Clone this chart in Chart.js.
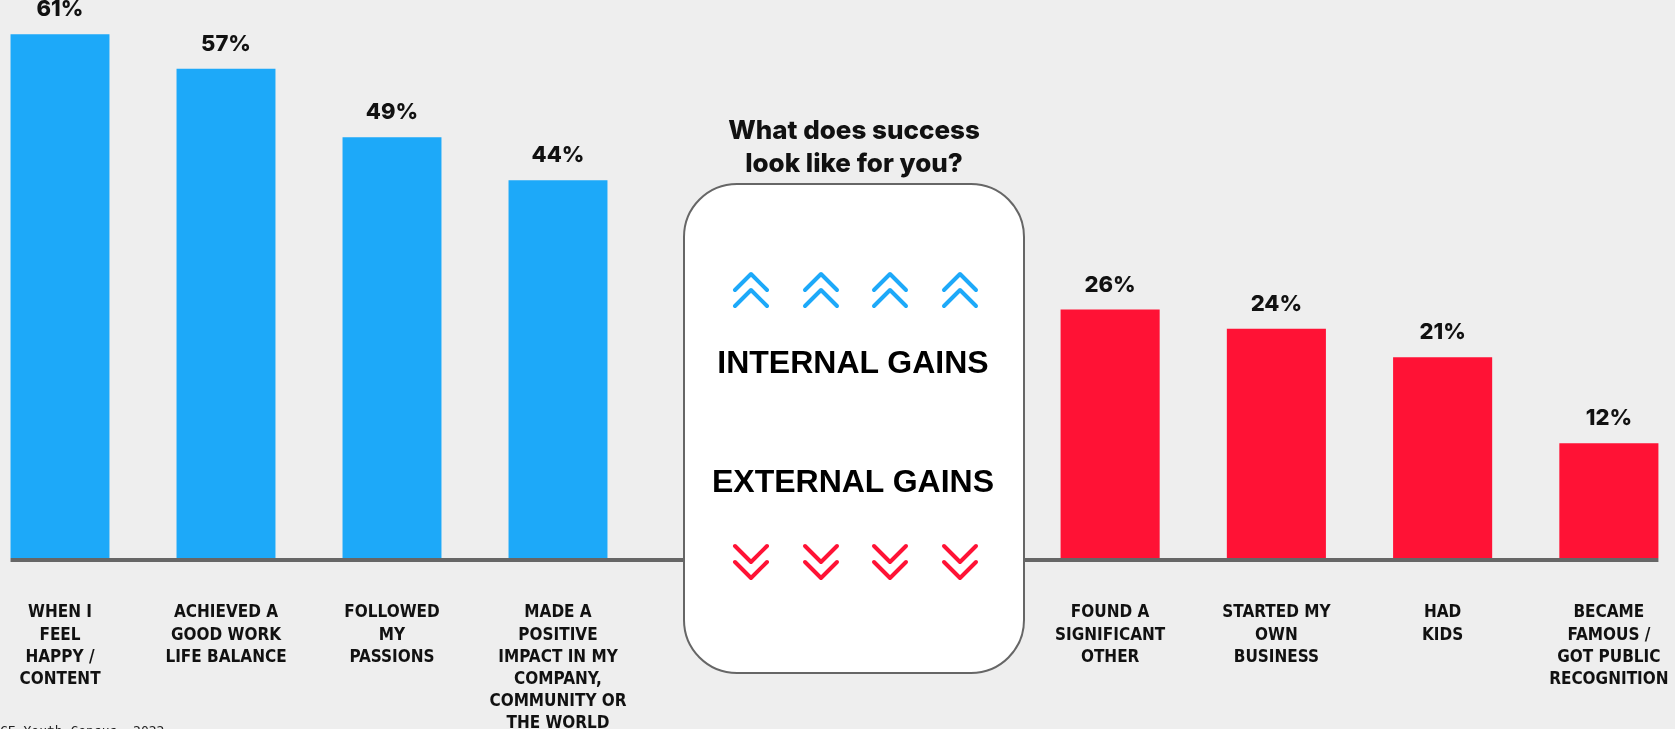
<!DOCTYPE html>
<html>
<head>
<meta charset="utf-8">
<script src="https://cdn.jsdelivr.net/npm/chart.js@4.4.0/dist/chart.umd.min.js"></script>
<style>
    html, body { margin: 0; padding: 0; background: #eeeeee; }
    #wrap { position: relative; width: 1675px; height: 729px; overflow: hidden; background: #eeeeee; }
    #internalChart { position: absolute; left: -23px; top: 0; }
    #externalChart { position: absolute; left: 967px; top: 0; }
    #overlay { position: absolute; left: 0; top: 0; }
</style>
</head>
<body>
<div id="wrap">
    <canvas id="internalChart" width="724" height="729"></canvas>
    <canvas id="externalChart" width="725" height="729"></canvas>
    <svg id="overlay" width="1675" height="729" xmlns="http://www.w3.org/2000/svg">
        <text x="854" y="139" text-anchor="middle" font-family="Inter, 'Noto Sans', sans-serif" font-weight="800" font-size="26" fill="#111">What does success</text>
        <text x="854" y="172" text-anchor="middle" font-family="Inter, 'Noto Sans', sans-serif" font-weight="800" font-size="26" fill="#111">look like for you?</text>
        <rect x="684" y="184" width="340" height="489" rx="53" ry="53" fill="#ffffff" stroke="#666666" stroke-width="2"></rect>
        <g id="upChevrons" fill="none" stroke="#1da9f9" stroke-width="4" stroke-linecap="round" stroke-linejoin="round"></g>
        <g id="downChevrons" fill="none" stroke="#ff1235" stroke-width="4" stroke-linecap="round" stroke-linejoin="round"></g>
        <text x="853" y="373" text-anchor="middle" font-family="'Liberation Sans', Arial, sans-serif" font-weight="700" font-size="32" fill="#000">INTERNAL GAINS</text>
        <text x="853" y="492" text-anchor="middle" font-family="'Liberation Sans', Arial, sans-serif" font-weight="700" font-size="32" fill="#000">EXTERNAL GAINS</text>
        <text x="0" y="735" font-family="'DejaVu Sans Mono', monospace" font-size="13" fill="#222">CE Youth Census, 2022</text>
    </svg>
</div>
<script>
// data
const internalLabels = [
    ['WHEN I', 'FEEL', 'HAPPY /', 'CONTENT'],
    ['ACHIEVED A', 'GOOD WORK', 'LIFE BALANCE'],
    ['FOLLOWED', 'MY', 'PASSIONS'],
    ['MADE A', 'POSITIVE', 'IMPACT IN MY', 'COMPANY,', 'COMMUNITY OR', 'THE WORLD']
];
const internalValues = [61, 57, 49, 44];

const externalLabels = [
    ['FOUND A', 'SIGNIFICANT', 'OTHER'],
    ['STARTED MY', 'OWN', 'BUSINESS'],
    ['HAD', 'KIDS'],
    ['BECAME', 'FAMOUS /', 'GOT PUBLIC', 'RECOGNITION']
];
const externalValues = [26, 24, 21, 12];

document.addEventListener('DOMContentLoaded', function() {
    // chevrons in the middle card
    const chevronX = [751, 821, 890, 960];
    const upGroup = document.getElementById('upChevrons');
    const downGroup = document.getElementById('downChevrons');
    chevronX.forEach(cx => {
        [274, 290].forEach(top => {
            const p = document.createElementNS('http://www.w3.org/2000/svg', 'polyline');
            p.setAttribute('points', `${cx - 16},${top + 16} ${cx},${top} ${cx + 16},${top + 16}`);
            upGroup.appendChild(p);
        });
        [546, 562].forEach(top => {
            const p = document.createElementNS('http://www.w3.org/2000/svg', 'polyline');
            p.setAttribute('points', `${cx - 16},${top} ${cx},${top + 16} ${cx + 16},${top}`);
            downGroup.appendChild(p);
        });
    });

    // percent labels above each bar
    const valueLabels = {
        id: 'valueLabels',
        afterDatasetsDraw(chart) {
            const ctx = chart.ctx;
            const meta = chart.getDatasetMeta(0);
            ctx.save();
            ctx.font = '800 22px Inter, "Noto Sans", sans-serif';
            ctx.fillStyle = '#111';
            ctx.textAlign = 'center';
            ctx.textBaseline = 'alphabetic';
            meta.data.forEach((bar, i) => {
                ctx.fillText(chart.data.datasets[0].data[i] + '%', bar.x, bar.y - 18);
            });
            ctx.restore();
        }
    };

    // grey baseline under the bars
    const baseline = {
        id: 'baseline',
        beforeDatasetsDraw(chart, args, opts) {
            const ctx = chart.ctx;
            const meta = chart.getDatasetMeta(0);
            const first = meta.data[0];
            const last = meta.data[meta.data.length - 1];
            const y = chart.chartArea.bottom + 2;
            let x0 = opts.side === 'left' ? first.x - first.width / 2 : 0;
            let x1 = opts.side === 'left' ? chart.width : last.x + last.width / 2;
            ctx.save();
            ctx.strokeStyle = '#666666';
            ctx.lineWidth = 4;
            ctx.beginPath();
            ctx.moveTo(x0, y);
            ctx.lineTo(x1, y);
            ctx.stroke();
            ctx.restore();
        }
    };

    function makeOptions(yMax, padding, side) {
        return {
            responsive: false,
            animation: false,
            layout: { padding: padding },
            plugins: {
                legend: { display: false },
                tooltip: { enabled: false },
                baseline: { side: side }
            },
            scales: {
                x: {
                    grid: { display: false, drawTicks: false },
                    border: { display: false },
                    ticks: {
                        color: '#111',
                        padding: 44,
                        maxRotation: 0,
                        autoSkip: false,
                        font: {
                            family: '"Liberation Sans Narrow", "Arial Narrow", "DejaVu Sans Condensed", Roboto, sans-serif',
                            size: 17,
                            weight: 'bold',
                            lineHeight: 1.3
                        }
                    },
                    afterFit: function(scale) {
                        // keep the bands the full width of the chart area
                        scale.height = 171;
                        scale.paddingLeft = 0;
                        scale.paddingRight = 0;
                    }
                },
                y: {
                    display: false,
                    min: 0,
                    max: yMax
                }
            }
        };
    }

    const internalCtx = document.getElementById('internalChart').getContext('2d');
    let internalChart = new Chart(internalCtx, {
        type: 'bar',
        data: {
            labels: internalLabels,
            datasets: [{
                data: internalValues,
                backgroundColor: '#1da9f9',
                borderWidth: 0,
                barPercentage: 0.596,
                categoryPercentage: 1
            }]
        },
        options: makeOptions(65, { left: 0, right: 60, top: 0, bottom: 0 }, 'left'),
        plugins: [baseline, valueLabels]
    });

    const externalCtx = document.getElementById('externalChart').getContext('2d');
    let externalChart = new Chart(externalCtx, {
        type: 'bar',
        data: {
            labels: externalLabels,
            datasets: [{
                data: externalValues,
                backgroundColor: '#ff1235',
                borderWidth: 0,
                barPercentage: 0.596,
                categoryPercentage: 1
            }]
        },
        options: makeOptions(58.4, { left: 60, right: 0, top: 0, bottom: 0 }, 'right'),
        plugins: [baseline, valueLabels]
    });
});
</script>
</body>
</html>
